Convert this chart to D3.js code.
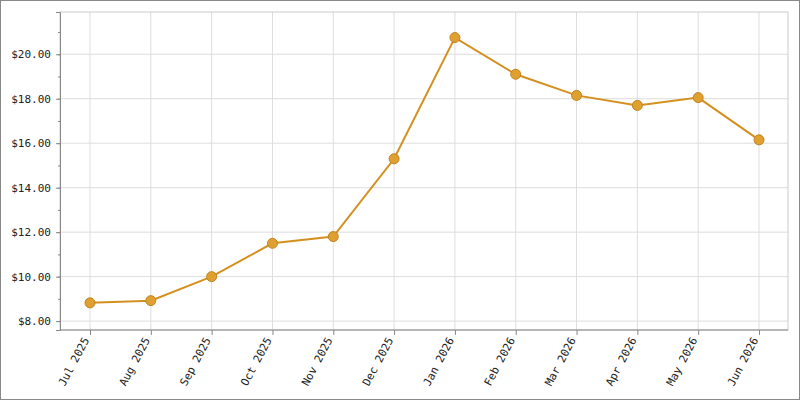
<!DOCTYPE html>
<html>
<head>
<script src="https://cdn.jsdelivr.net/npm/d3@7"></script>
<style>body{margin:0}svg{display:block}</style>
</head>
<body>
<script>
var months = ["Jul 2025","Aug 2025","Sep 2025","Oct 2025","Nov 2025","Dec 2025","Jan 2026","Feb 2026","Mar 2026","Apr 2026","May 2026","Jun 2026"];
var prices = [8.82, 8.92, 10.0, 11.5, 11.8, 15.3, 20.75, 19.1, 18.15, 17.7, 18.05, 16.15];
var yTicks = [8, 10, 12, 14, 16, 18, 20];

var W = 800, H = 400, L = 60, R = 788, T = 12, B = 330;
var svg = d3.select("body").append("svg").attr("width", W).attr("height", H);
svg.append("rect").attr("x",0.5).attr("y",0.5).attr("width",W-1).attr("height",H-1)
  .attr("fill","#fff").attr("stroke","#888");

var x = d3.scalePoint().domain(months).range([90, 759]);
var y = d3.scaleLinear().domain([7.6, 21.9]).range([B, T]);

var g = svg.append("g");
// grid
g.selectAll(".gy").data(yTicks).enter().append("line")
  .attr("x1",L).attr("x2",R).attr("y1",d=>y(d)).attr("y2",d=>y(d)).attr("stroke","#ddd");
g.selectAll(".gx").data(months).enter().append("line")
  .attr("x1",d=>x(d)).attr("x2",d=>x(d)).attr("y1",T).attr("y2",B).attr("stroke","#ddd");
g.append("rect").attr("x",L).attr("y",T).attr("width",R-L).attr("height",B-T)
  .attr("fill","none").attr("stroke","#ccc");

// y axis
var ya = g.append("g").attr("transform","translate("+L+",0)")
  .call(d3.axisLeft(y).tickValues(yTicks).tickSize(4).tickFormat(d=>"$"+d.toFixed(2)));
g.append("g").attr("transform","translate("+L+",0)")
  .call(d3.axisLeft(y).tickValues(d3.range(8,22,1)).tickSize(2).tickFormat(""))
  .select(".domain").remove();
// x axis
var xa = g.append("g").attr("transform","translate(0,"+B+")")
  .call(d3.axisBottom(x).tickSize(5).tickSizeOuter(0));
xa.selectAll("text").attr("text-anchor","end").attr("dx","-0.3em").attr("dy","0.35em")
  .attr("transform","rotate(-62)").attr("x",-6).attr("y",0);
g.selectAll(".domain").attr("stroke","#888");
g.selectAll(".tick line").attr("stroke","#888");
g.selectAll(".tick text").attr("fill","#222").style("font-family","DejaVu Sans Mono").style("font-size","11px");
ya.selectAll("text").attr("dx","-2");
xa.select(".domain").attr("d","M"+L+",0H"+R);

var line = d3.line().x((d,i)=>x(months[i])).y(d=>y(d));
svg.append("path").datum(prices).attr("d",line).attr("fill","none")
  .attr("stroke","#d4901f").attr("stroke-width",2);
svg.selectAll(".pt").data(prices).enter().append("circle")
  .attr("cx",(d,i)=>x(months[i])).attr("cy",d=>y(d)).attr("r",5)
  .attr("fill","#e0a030").attr("stroke","#c08420").attr("stroke-width",1);
</script>
</body>
</html>
